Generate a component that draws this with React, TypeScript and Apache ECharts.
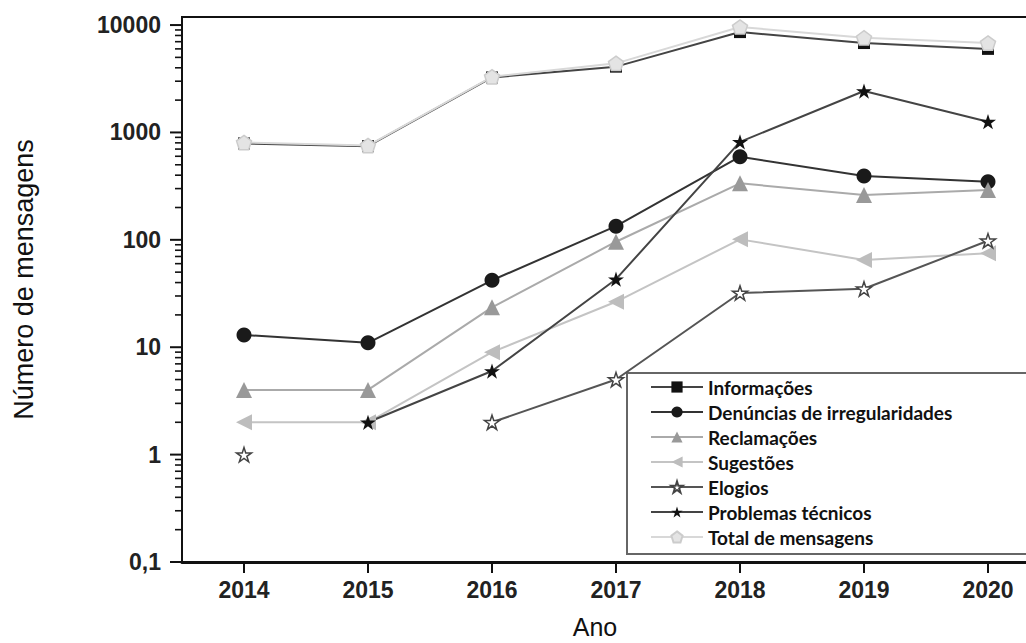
import React, { useEffect, useRef } from "react";
import * as echarts from "echarts";

const years = ["2014", "2015", "2016", "2017", "2018", "2019", "2020"];
const informacoes = [790, 745, 3250, 4100, 8600, 6800, 6000];
const denuncias = [13, 11, 42, 134, 594, 393, 348];
const reclamacoes = [4, 4, 23.5, 96, 336, 261, 291];
const sugestoes = [2, 2, 9, 26.5, 101, 65, 75];
const elogios = [1, null, 2, 5, 32, 35, 98];
const problemas = [null, 2, 6, 43, 818, 2430, 1260];
const total = [805, 755, 3300, 4400, 9600, 7600, 6800];

const yMin = 0.1;
const yMax = 11885;
const majorTicks = [0.1, 1, 10, 100, 1000, 10000];
const minorMultipliers = [2, 3, 4, 5, 6, 7, 8, 9];
const minorDecades = [0.1, 1, 10, 100, 1000];

const STAR =
  "path://M0,-100 L22.45,-30.9 L95.1,-30.9 L36.3,11.8 L58.8,80.9 L0,38.2 L-58.8,80.9 L-36.3,11.8 L-95.1,-30.9 L-22.45,-30.9 Z";
const PENTAGON = "path://M0,-100 L95.1,-30.9 L58.8,80.9 L-58.8,80.9 L-95.1,-30.9 Z";

const AXIS_FONT = "'Liberation Sans', Arial, sans-serif";
const GRID_LEFT = 182;
const GRID_TOP = 17;
const GRID_H = 545;
const TICK = "#111";

export default function App() {
  const ref = useRef<HTMLDivElement>(null);
  useEffect(() => {
    if (!ref.current) return;
    const chart = echarts.init(ref.current, null, { renderer: "svg" });
    const mk = (
      name: string,
      data: (number | null)[],
      symbol: string,
      size: number,
      lineColor: string,
      fill: string,
      border: string | null,
      extra: any = {}
    ) => ({
      name,
      type: "line",
      data,
      symbol,
      symbolSize: size,
      symbolKeepAspect: true,
      connectNulls: false,
      lineStyle: { color: lineColor, width: 2 },
      itemStyle: border
        ? { color: fill, borderColor: border, borderWidth: 1.5 }
        : { color: fill, borderWidth: 0 },
      ...extra,
    });
    chart.setOption({
      animation: false,
      backgroundColor: "#fff",
      grid: {
        left: GRID_LEFT,
        top: GRID_TOP,
        width: 868,
        height: GRID_H,
        outerBoundsMode: "none",
        containLabel: false,
        show: true,
        borderColor: "#111",
        borderWidth: 2,
        backgroundColor: "transparent",
      },
      xAxis: {
        type: "category",
        data: years,
        boundaryGap: true,
        name: "Ano",
        nameLocation: "middle",
        nameGap: 52,
        nameTextStyle: {
          fontFamily: AXIS_FONT,
          fontSize: 25,
          color: "#111",
          padding: [0, 42, 0, 0],
        },
        axisLine: { show: true, lineStyle: { color: "#111", width: 3 } },
        axisTick: { show: false },
        axisLabel: {
          fontFamily: AXIS_FONT,
          fontSize: 23,
          fontWeight: "bold",
          color: "#222",
          margin: 16,
        },
        splitLine: { show: false },
      },
      yAxis: {
        type: "log",
        min: yMin,
        max: yMax,
        logBase: 10,
        splitNumber: 5,
        name: "Número de mensagens",
        nameLocation: "middle",
        nameGap: 145,
        nameTextStyle: {
          fontFamily: AXIS_FONT,
          fontSize: 27,
          color: "#111",
          padding: [0, 0, 0, 20],
        },
        axisLine: { show: true, lineStyle: { color: "#111", width: 2 } },
        axisTick: { show: false },
        axisLabel: {
          fontFamily: AXIS_FONT,
          fontSize: 23,
          fontWeight: "bold",
          color: "#222",
          margin: 21,
          formatter: (v: number) => {
            const l = Math.log10(v);
            if (Math.abs(l - Math.round(l)) > 1e-6) return "";
            if (v < 1) return "0,1";
            return String(Math.round(v));
          },
        },
        splitLine: { show: false },
        minorTick: { show: false },
      },
      legend: {
        orient: "vertical",
        left: 650,
        top: 377,
        padding: 0,
        itemWidth: 52,
        itemHeight: 14,
        itemGap: 5,
        textStyle: {
          fontFamily: "Lato, 'Noto Sans', sans-serif",
          fontWeight: "bold",
          fontSize: 19,
          color: "#111",
          lineHeight: 20,
        },
        data: [
          "Informações",
          "Denúncias de irregularidades",
          "Reclamações",
          "Sugestões",
          "Elogios",
          "Problemas técnicos",
          "Total de mensagens",
        ],
      },
      series: [
        mk("Informações", informacoes, "rect", 12, "#444", "#111", null),
        mk("Denúncias de irregularidades", denuncias, "circle", 15, "#333", "#1a1a1a", null),
        mk("Reclamações", reclamacoes, "triangle", 16, "#aaa", "#999", null),
        mk("Sugestões", sugestoes, "triangle", 16, "#c4c4c4", "#bdbdbd", null, {
          symbolRotate: 90,
        }),
        mk("Elogios", elogios, STAR, 15, "#555", "#fff", "#444"),
        mk("Problemas técnicos", problemas, STAR, 16, "#444", "#111", null),
        mk("Total de mensagens", total, PENTAGON, 15, "#d8d8d8", "#e4e4e4", "#ccc"),
      ],
    });
    // ticks, positioned through the axes' own scales
    const tickEls: any[] = [];
    const bottom = GRID_TOP + GRID_H;
    years.forEach((yr) => {
      const x = chart.convertToPixel({ xAxisIndex: 0 }, yr) as number;
      if (typeof x === "number" && isFinite(x)) {
        tickEls.push({
          type: "line",
          z: 10,
          shape: { x1: x, y1: bottom, x2: x, y2: bottom + 11 },
          style: { stroke: TICK, lineWidth: 2 },
        });
      }
    });
    majorTicks.forEach((v) => {
      const y = chart.convertToPixel({ yAxisIndex: 0 }, v) as number;
      if (typeof y === "number" && isFinite(y)) {
        tickEls.push({
          type: "line",
          z: 10,
          shape: { x1: GRID_LEFT - 12, y1: y, x2: GRID_LEFT, y2: y },
          style: { stroke: TICK, lineWidth: 2 },
        });
      }
    });
    minorDecades.forEach((d) =>
      minorMultipliers.forEach((m) => {
        const y = chart.convertToPixel({ yAxisIndex: 0 }, m * d) as number;
        if (typeof y === "number" && isFinite(y)) {
          tickEls.push({
            type: "line",
            z: 10,
            shape: { x1: GRID_LEFT - 7, y1: y, x2: GRID_LEFT, y2: y },
            style: { stroke: TICK, lineWidth: 1.6 },
          });
        }
      })
    );
    chart.setOption({
      graphic: [
        {
          type: "rect",
          z: 3,
          shape: { x: 627, y: 373, width: 430, height: 181 },
          style: { fill: "#fff", stroke: "#666", lineWidth: 2 },
        },
        ...tickEls,
      ],
    });
    return () => chart.dispose();
  }, []);
  return (
    <div
      ref={ref}
      style={{ position: "absolute", left: 0, top: 0, width: 1026, height: 643 }}
    />
  );
}
